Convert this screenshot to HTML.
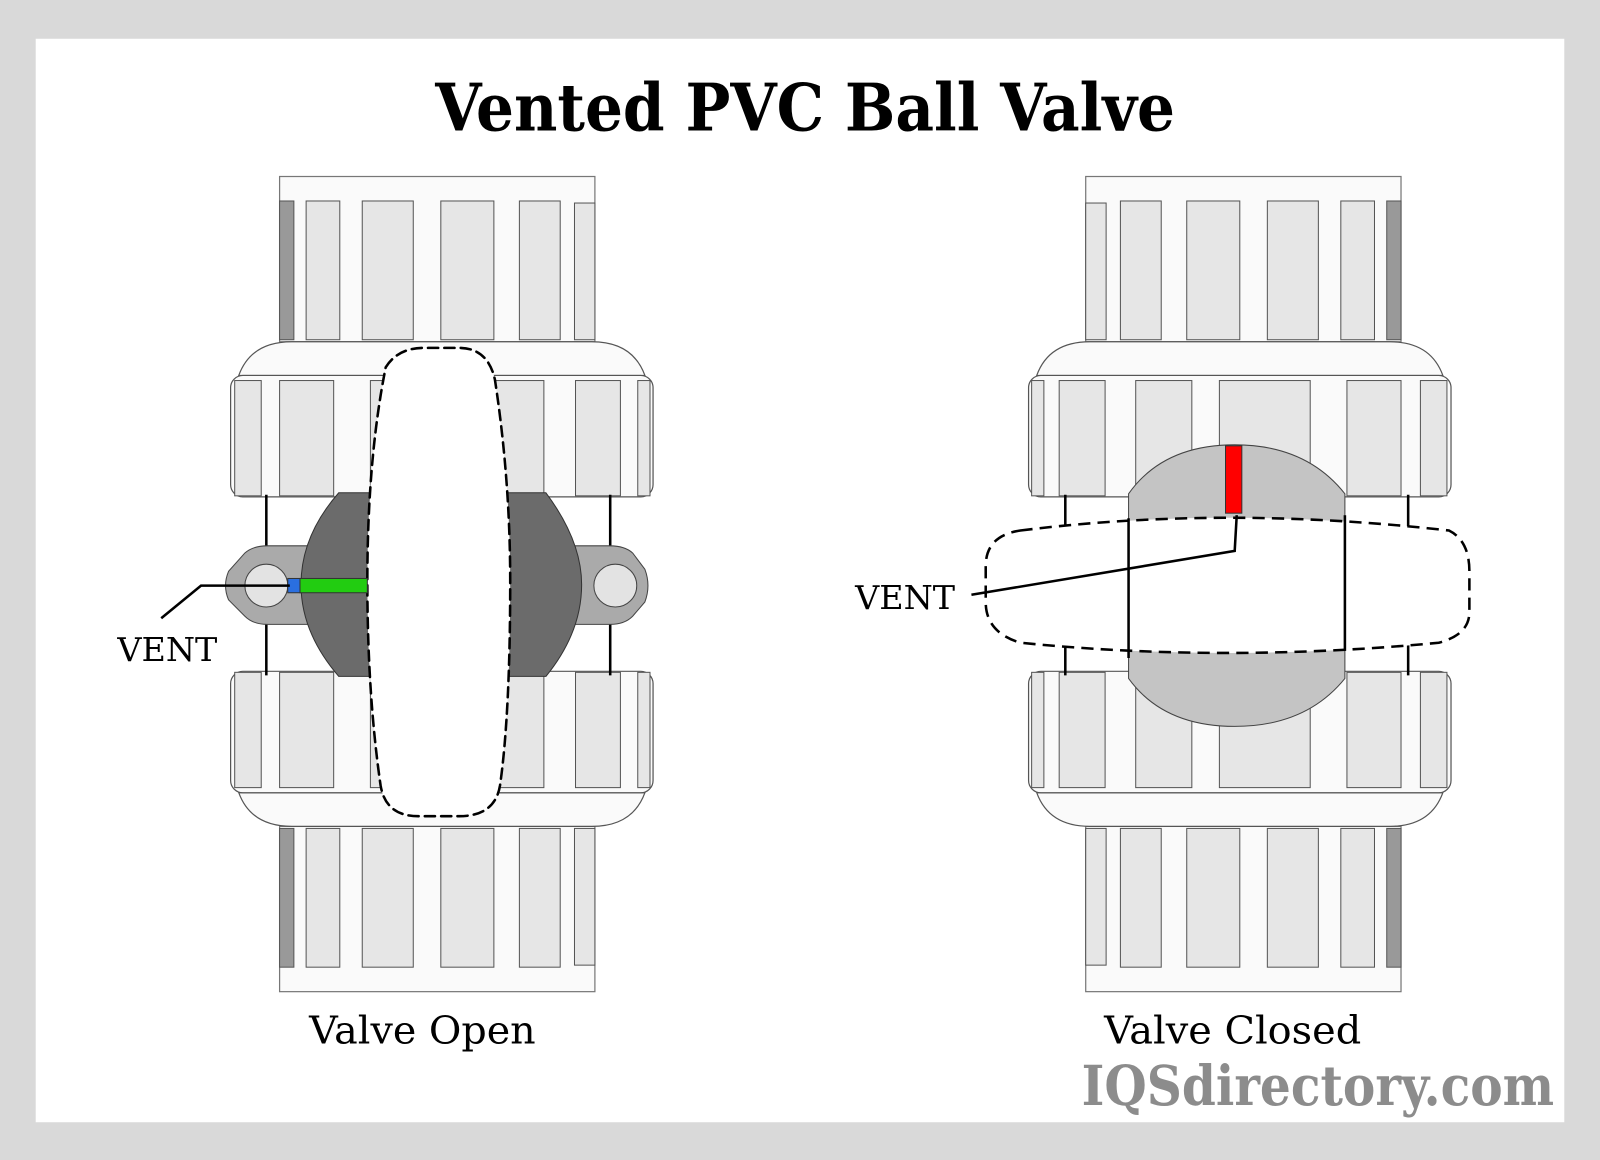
<!DOCTYPE html>
<html><head><meta charset="utf-8"><style>
html,body{margin:0;padding:0;background:#d9d9d9;}
svg{display:block;}
</style></head><body>
<svg width="1600" height="1160" viewBox="0 0 1568 1137" preserveAspectRatio="none" xmlns="http://www.w3.org/2000/svg">
<rect x="0" y="0" width="1568" height="1137" fill="#d9d9d9"/>
<rect x="35" y="38" width="1498" height="1062" fill="#ffffff"/>
<text x="789" y="128" text-anchor="middle" font-family="'DejaVu Serif','Liberation Serif',serif" font-weight="bold" font-size="64" textLength="725" lengthAdjust="spacingAndGlyphs" fill="#000">Vented PVC Ball Valve</text>

<defs>
<g id="pipe">
  <rect x="0" y="0" width="309" height="162" fill="#fafafa" stroke="#777" stroke-width="1.2"/>
  <rect x="26" y="24" width="33" height="136" fill="#e6e6e6" stroke="#555"/>
  <rect x="81" y="24" width="50" height="136" fill="#e6e6e6" stroke="#555"/>
  <rect x="158" y="24" width="52" height="136" fill="#e6e6e6" stroke="#555"/>
  <rect x="235" y="24" width="40" height="136" fill="#e6e6e6" stroke="#555"/>
  <rect x="289" y="26" width="20" height="134" fill="#e6e6e6" stroke="#555"/>
  <rect x="0" y="24" width="14" height="136" fill="#999" stroke="#555"/>
</g>
<g id="nutbase">
  <path d="M8 33 Q20 0 60 0 L354 0 Q394 0 406 33 Z" fill="#fafafa" stroke="#555" stroke-width="1.2"/>
  <rect x="0" y="33" width="414" height="119" rx="12" fill="#fafafa" stroke="#555" stroke-width="1.2"/>
</g>
<g id="nutL">
  <use href="#nutbase"/>
  <rect x="4" y="38" width="26" height="113" fill="#e6e6e6" stroke="#555"/>
  <rect x="48" y="38" width="53" height="113" fill="#e6e6e6" stroke="#555"/>
  <rect x="137" y="38" width="50" height="113" fill="#e6e6e6" stroke="#555"/>
  <rect x="258" y="38" width="49" height="113" fill="#e6e6e6" stroke="#555"/>
  <rect x="338" y="38" width="44" height="113" fill="#e6e6e6" stroke="#555"/>
  <rect x="399" y="38" width="12" height="113" fill="#e6e6e6" stroke="#555"/>
</g>
<g id="nutR">
  <use href="#nutbase"/>
  <rect x="3" y="38" width="12" height="113" fill="#e6e6e6" stroke="#555"/>
  <rect x="30" y="38" width="45" height="113" fill="#e6e6e6" stroke="#555"/>
  <rect x="105" y="38" width="55" height="113" fill="#e6e6e6" stroke="#555"/>
  <rect x="187" y="38" width="89" height="113" fill="#e6e6e6" stroke="#555"/>
  <rect x="312" y="38" width="53" height="113" fill="#e6e6e6" stroke="#555"/>
  <rect x="384" y="38" width="26" height="113" fill="#e6e6e6" stroke="#555"/>
</g>
</defs>

<!-- LEFT VALVE -->
<use href="#pipe" x="274" y="173"/>
<use href="#pipe" transform="translate(274,972) scale(1,-1)"/>
<use href="#nutL" x="226" y="335"/>
<use href="#nutL" transform="translate(226,810) scale(1,-1)"/>
<line x1="261" y1="485" x2="261" y2="662" stroke="#000" stroke-width="2.5"/>
<line x1="598" y1="485" x2="598" y2="662" stroke="#000" stroke-width="2.5"/>
<path d="M240 542 Q248 535 262 535 L305 535 L305 612 L262 612 Q248 612 240 604 L224 588 Q218 574 224 560 Z" fill="#aaa" stroke="#444"/>
<circle cx="261" cy="574" r="21" fill="#e3e3e3" stroke="#444"/>
<path d="M620 542 Q612 535 598 535 L555 535 L555 612 L598 612 Q612 612 620 604 L632 590 Q638 574 632 558 Z" fill="#aaa" stroke="#444"/>
<circle cx="603" cy="574" r="21" fill="#e3e3e3" stroke="#444"/>
<path d="M332 483 L362 483 L362 663 L332 663 Q295 620 295 573 Q295 525 332 483 Z" fill="#6b6b6b" stroke="#333"/>
<path d="M497 483 L535 483 Q570 530 570 573 Q570 620 535 663 L497 663 Z" fill="#6b6b6b" stroke="#333"/>
<path d="M378 360 Q390 341 415 341 L450 341 Q478 341 485 372 Q500 470 500 570 Q500 700 490 770 Q485 800 450 800 L410 800 Q378 800 373 770 Q360 680 360 570 Q360 450 378 360 Z" fill="#fff" stroke="#000" stroke-width="2.5" stroke-dasharray="10,6" stroke-linecap="round"/>
<rect x="282" y="567" width="13" height="14" fill="#2a6fe0" stroke="#333"/>
<rect x="294" y="567" width="66" height="14" fill="#22cc11" stroke="#333"/>
<polyline points="284,574 197,574 158,606" fill="none" stroke="#000" stroke-width="2.5"/>
<text x="115" y="648" font-family="'DejaVu Serif','Liberation Serif',serif" font-size="32" textLength="98" lengthAdjust="spacingAndGlyphs" fill="#000">VENT</text>
<text x="303" y="1023" font-family="'DejaVu Serif','Liberation Serif',serif" font-size="38" textLength="222" lengthAdjust="spacingAndGlyphs" fill="#000">Valve Open</text>

<!-- RIGHT VALVE -->
<use href="#pipe" transform="translate(1373,173) scale(-1,1)"/>
<use href="#pipe" transform="translate(1373,972) scale(-1,-1)"/>
<use href="#nutR" x="1008" y="335"/>
<use href="#nutR" transform="translate(1008,810) scale(1,-1)"/>
<line x1="1044" y1="485" x2="1044" y2="662" stroke="#000" stroke-width="2.5"/>
<line x1="1380" y1="485" x2="1380" y2="662" stroke="#000" stroke-width="2.5"/>
<path d="M1106 484 Q1140 436 1210 436 Q1280 436 1318 484 L1318 665 Q1280 712 1210 712 Q1140 712 1106 665 Z" fill="#c4c4c4" stroke="#444"/>
<path d="M1000 520 Q1200 495 1420 520 Q1440 530 1440 560 L1440 600 Q1440 622 1410 630 Q1200 650 1000 630 Q966 620 966 590 L966 555 Q966 525 1000 520 Z" fill="#fff" stroke="none"/>
<line x1="1106" y1="508" x2="1106" y2="645" stroke="#000" stroke-width="2.5"/>
<line x1="1318" y1="505" x2="1318" y2="638" stroke="#000" stroke-width="2.5"/>
<path d="M1000 520 Q1200 495 1420 520 Q1440 530 1440 560 L1440 600 Q1440 622 1410 630 Q1200 650 1000 630 Q966 620 966 590 L966 555 Q966 525 1000 520 Z" fill="none" stroke="#000" stroke-width="2.5" stroke-dasharray="12,7"/>
<rect x="1201" y="437" width="16" height="66" fill="#ff0000" stroke="#333"/>
<polyline points="1212,505 1210,540 952,583" fill="none" stroke="#000" stroke-width="2.5"/>
<text x="838" y="597" font-family="'DejaVu Serif','Liberation Serif',serif" font-size="32" textLength="98" lengthAdjust="spacingAndGlyphs" fill="#000">VENT</text>
<text x="1082" y="1023" font-family="'DejaVu Serif','Liberation Serif',serif" font-size="38" textLength="252" lengthAdjust="spacingAndGlyphs" fill="#000">Valve Closed</text>

<text x="1060" y="1083" font-family="'DejaVu Serif','Liberation Serif',serif" font-weight="bold" font-size="54" textLength="463" lengthAdjust="spacingAndGlyphs" fill="#8c8c8c">IQSdirectory.com</text>
</svg>
</body></html>
